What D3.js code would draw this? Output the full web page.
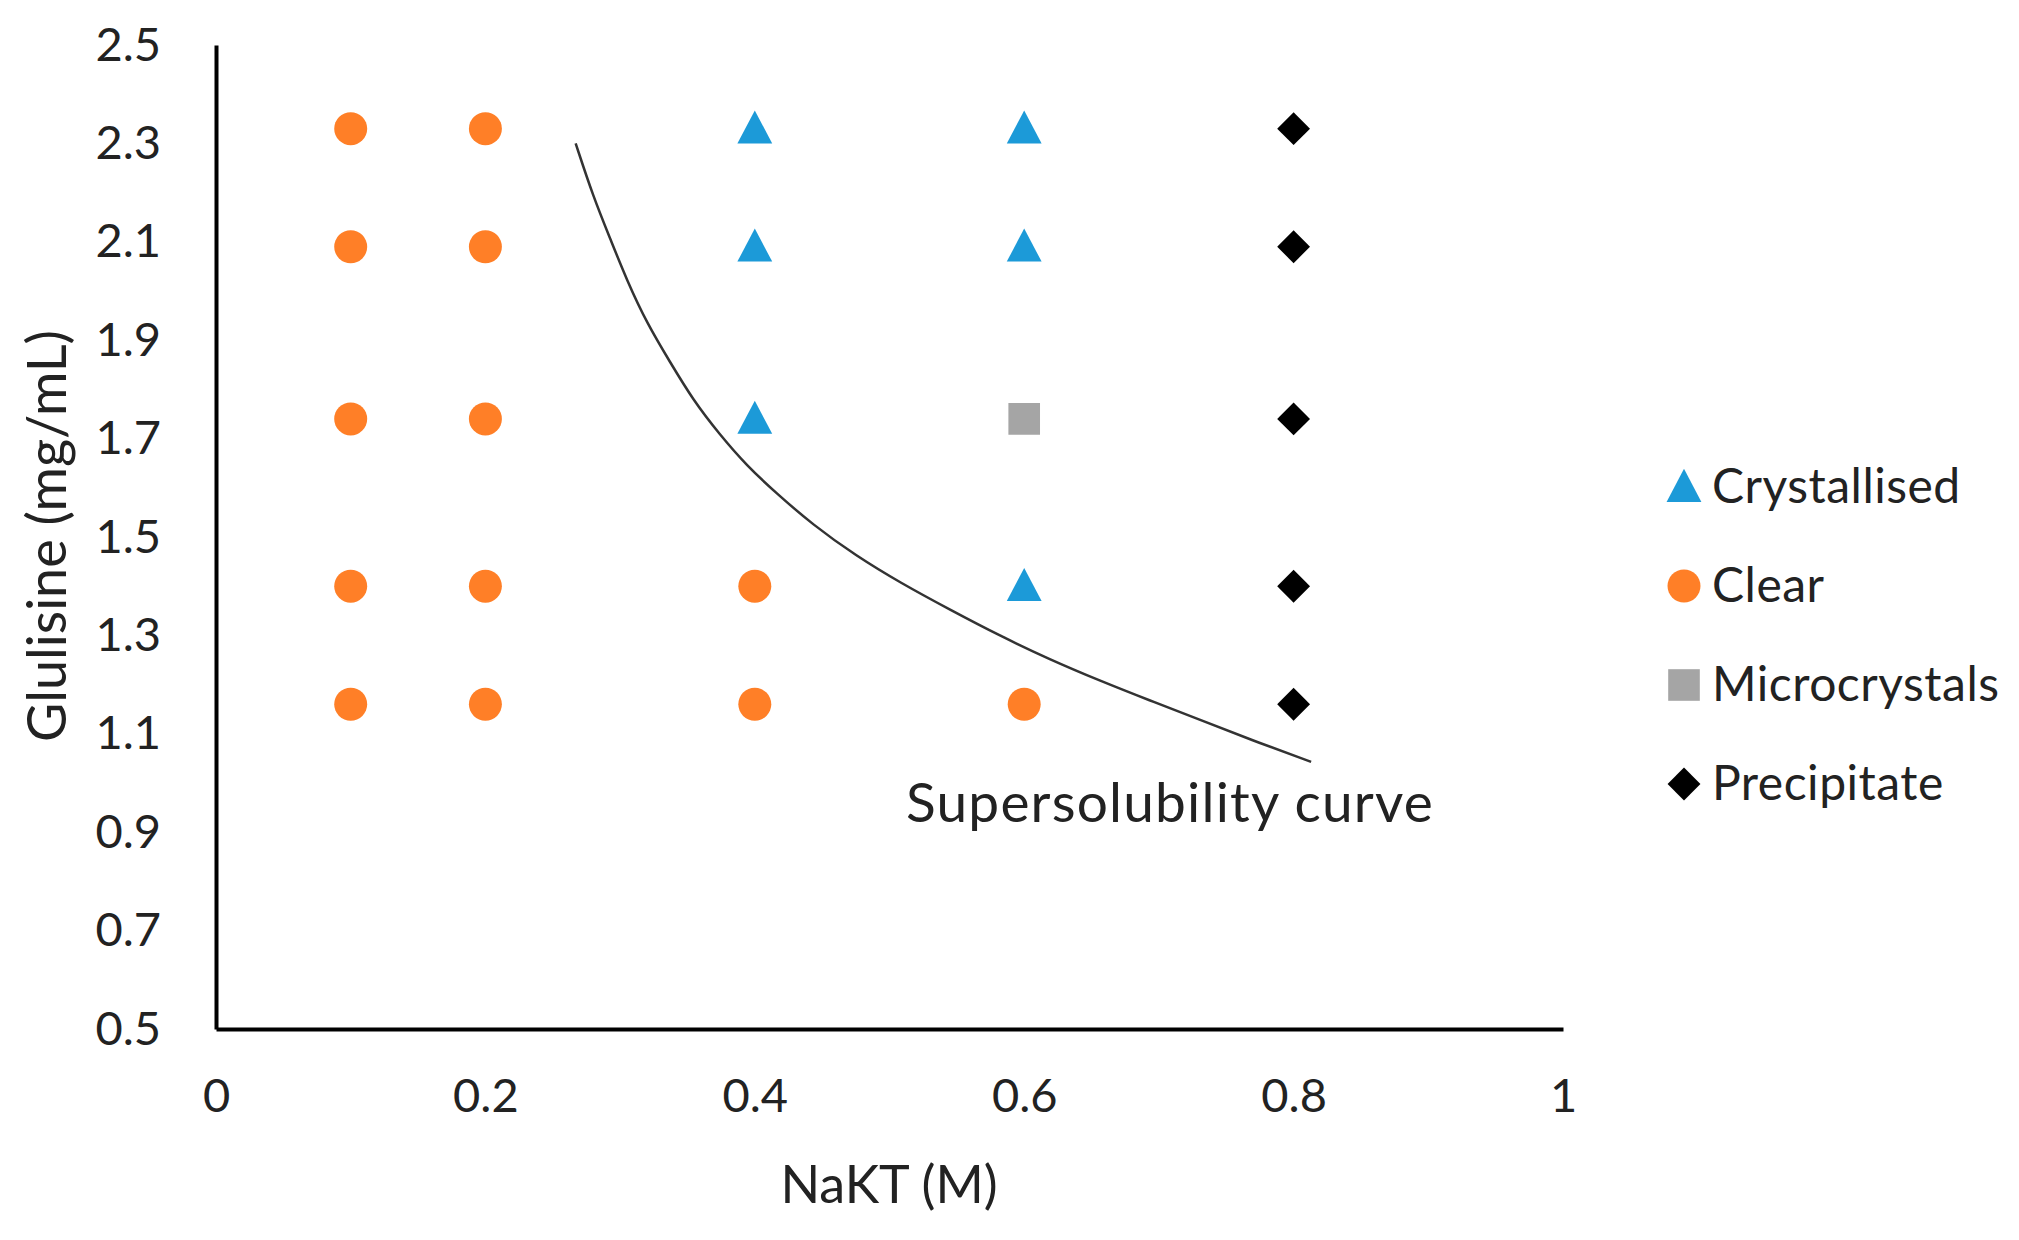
<!DOCTYPE html>
<html>
<head>
<meta charset="utf-8">
<script src="https://cdn.jsdelivr.net/npm/d3@7"></script>
<style>
  body { margin: 0; background: #fff; }
  text { font-family: Lato, "Open Sans", sans-serif; fill: #222; }
</style>
</head>
<body>
<div id="chart"></div>
<script>
//setup
var width = 2019,
    height = 1240;

// data
var xTicks = [0, 0.2, 0.4, 0.6, 0.8, 1];
var xTickLabels = ["0", "0.2", "0.4", "0.6", "0.8", "1"];
var yTicks = [0.5, 0.7, 0.9, 1.1, 1.3, 1.5, 1.7, 1.9, 2.1, 2.3, 2.5];
var yTickLabels = ["0.5", "0.7", "0.9", "1.1", "1.3", "1.5", "1.7", "1.9", "2.1", "2.3", "2.5"];

var crystallisedX = [0.4, 0.4, 0.4, 0.6, 0.6, 0.6];
var crystallisedY = [2.33, 2.09, 1.74, 2.33, 2.09, 1.40];

var clearX = [0.1, 0.1, 0.1, 0.1, 0.1, 0.2, 0.2, 0.2, 0.2, 0.2, 0.4, 0.4, 0.6];
var clearY = [2.33, 2.09, 1.74, 1.40, 1.16, 2.33, 2.09, 1.74, 1.40, 1.16, 1.40, 1.16, 1.16];

var microX = [0.6];
var microY = [1.74];

var precipX = [0.8, 0.8, 0.8, 0.8, 0.8];
var precipY = [2.33, 2.09, 1.74, 1.40, 1.16];

// supersolubility curve, traced by eye
var curveX = [0.267, 0.280, 0.293, 0.305, 0.320, 0.337, 0.354, 0.374, 0.394, 0.416, 0.443,
              0.475, 0.508, 0.545, 0.582, 0.619, 0.656, 0.693, 0.730, 0.768, 0.813];
var curveY = [2.300, 2.192, 2.104, 2.022, 1.934, 1.856, 1.779, 1.708, 1.645, 1.589, 1.525,
              1.462, 1.407, 1.352, 1.299, 1.251, 1.208, 1.168, 1.129, 1.088, 1.043];

var legendNames = ["Crystallised", "Clear", "Microcrystals", "Precipitate"];

var xScale = d3.scaleLinear()
    .domain([0, 1])
    .range([216, 1563]);

var yScale = d3.scaleLinear()
    .domain([0.5, 2.5])
    .range([1029, 45]);

var svg = d3.select("#chart").append("svg")
    .attr("width", width)
    .attr("height", height);

// triangle a bit taller than equilateral, like the original
var triangle = {
    draw: function (ctx, size) {
        var w = Math.sqrt(size) * 1.05, h = w * 0.95;
        ctx.moveTo(0, -h * 0.55);
        ctx.lineTo(w / 2, h * 0.45);
        ctx.lineTo(-w / 2, h * 0.45);
        ctx.closePath();
    }
};

var series = [
    { name: "Crystallised", xs: crystallisedX, ys: crystallisedY, type: triangle, size: 1100, color: "#1c9ad8", rot: 0 },
    { name: "Clear", xs: clearX, ys: clearY, type: d3.symbolCircle, size: 855, color: "#ff7f27", rot: 0 },
    { name: "Microcrystals", xs: microX, ys: microY, type: d3.symbolSquare, size: 1000, color: "#a5a5a5", rot: 0 },
    { name: "Precipitate", xs: precipX, ys: precipY, type: d3.symbolSquare, size: 540, color: "#000", rot: 45 }
];
// end of setup

//axes
svg.append("g")
    .attr("transform", "translate(0," + yScale(0.5) + ")")
    .call(d3.axisBottom(xScale)
        .tickValues(xTicks)
        .tickFormat(function (d, i) { return xTickLabels[i]; })
        .tickSize(0)
        .tickPadding(50));

svg.append("g")
    .attr("transform", "translate(" + xScale(0) + ",0)")
    .call(d3.axisLeft(yScale)
        .tickValues(yTicks)
        .tickFormat(function (d, i) { return yTickLabels[i]; })
        .tickSize(0)
        .tickPadding(55));

svg.selectAll(".domain")
    .attr("stroke", "#000")
    .attr("stroke-width", 4);

svg.selectAll(".tick text")
    .style("font-family", "Lato, 'Open Sans', sans-serif")
    .style("font-size", "47px")
    .attr("fill", "#222");

//curve
var line = d3.line()
    .x(function (d) { return xScale(d[0]); })
    .y(function (d) { return yScale(d[1]); })
    .curve(d3.curveBasis);

svg.append("path")
    .datum(d3.zip(curveX, curveY))
    .attr("d", line)
    .attr("fill", "none")
    .attr("stroke", "#333")
    .attr("stroke-width", 2.5);

svg.append("text")
    .attr("x", 906)
    .attr("y", 822)
    .style("font-size", "55px")
    .style("letter-spacing", "1.2px")
    .text("Supersolubility curve");

//points
series.forEach(function (s) {
    svg.append("g").selectAll("path")
        .data(d3.zip(s.xs, s.ys))
        .enter().append("path")
        .attr("d", d3.symbol().type(s.type).size(s.size))
        .attr("transform", function (d) {
            return "translate(" + xScale(d[0]) + "," + yScale(d[1]) + ") rotate(" + s.rot + ")";
        })
        .attr("fill", s.color);
});

//legend
var legend = svg.append("g")
    .attr("transform", "translate(1684,487)");

var items = legend.selectAll("g")
    .data(series)
    .enter().append("g")
    .attr("transform", function (d, i) { return "translate(0," + (i * 99) + ")"; });

items.append("path")
    .attr("d", function (d) { return d3.symbol().type(d.type).size(d.size)(); })
    .attr("transform", function (d) { return "rotate(" + d.rot + ")"; })
    .attr("fill", function (d) { return d.color; });

items.append("text")
    .attr("x", 28)
    .attr("y", 16)
    .style("font-size", "48px")
    .style("letter-spacing", "0.5px")
    .text(function (d, i) { return legendNames[i]; });

//axis titles
svg.append("text")
    .attr("x", 889)
    .attr("y", 1203)
    .attr("text-anchor", "middle")
    .style("font-size", "52px")
    .text("NaKT (M)");

svg.append("text")
    .attr("transform", "translate(66,536) rotate(-90)")
    .attr("text-anchor", "middle")
    .style("font-size", "54px")
    .text("Glulisine (mg/mL)");
</script>
</body>
</html>
